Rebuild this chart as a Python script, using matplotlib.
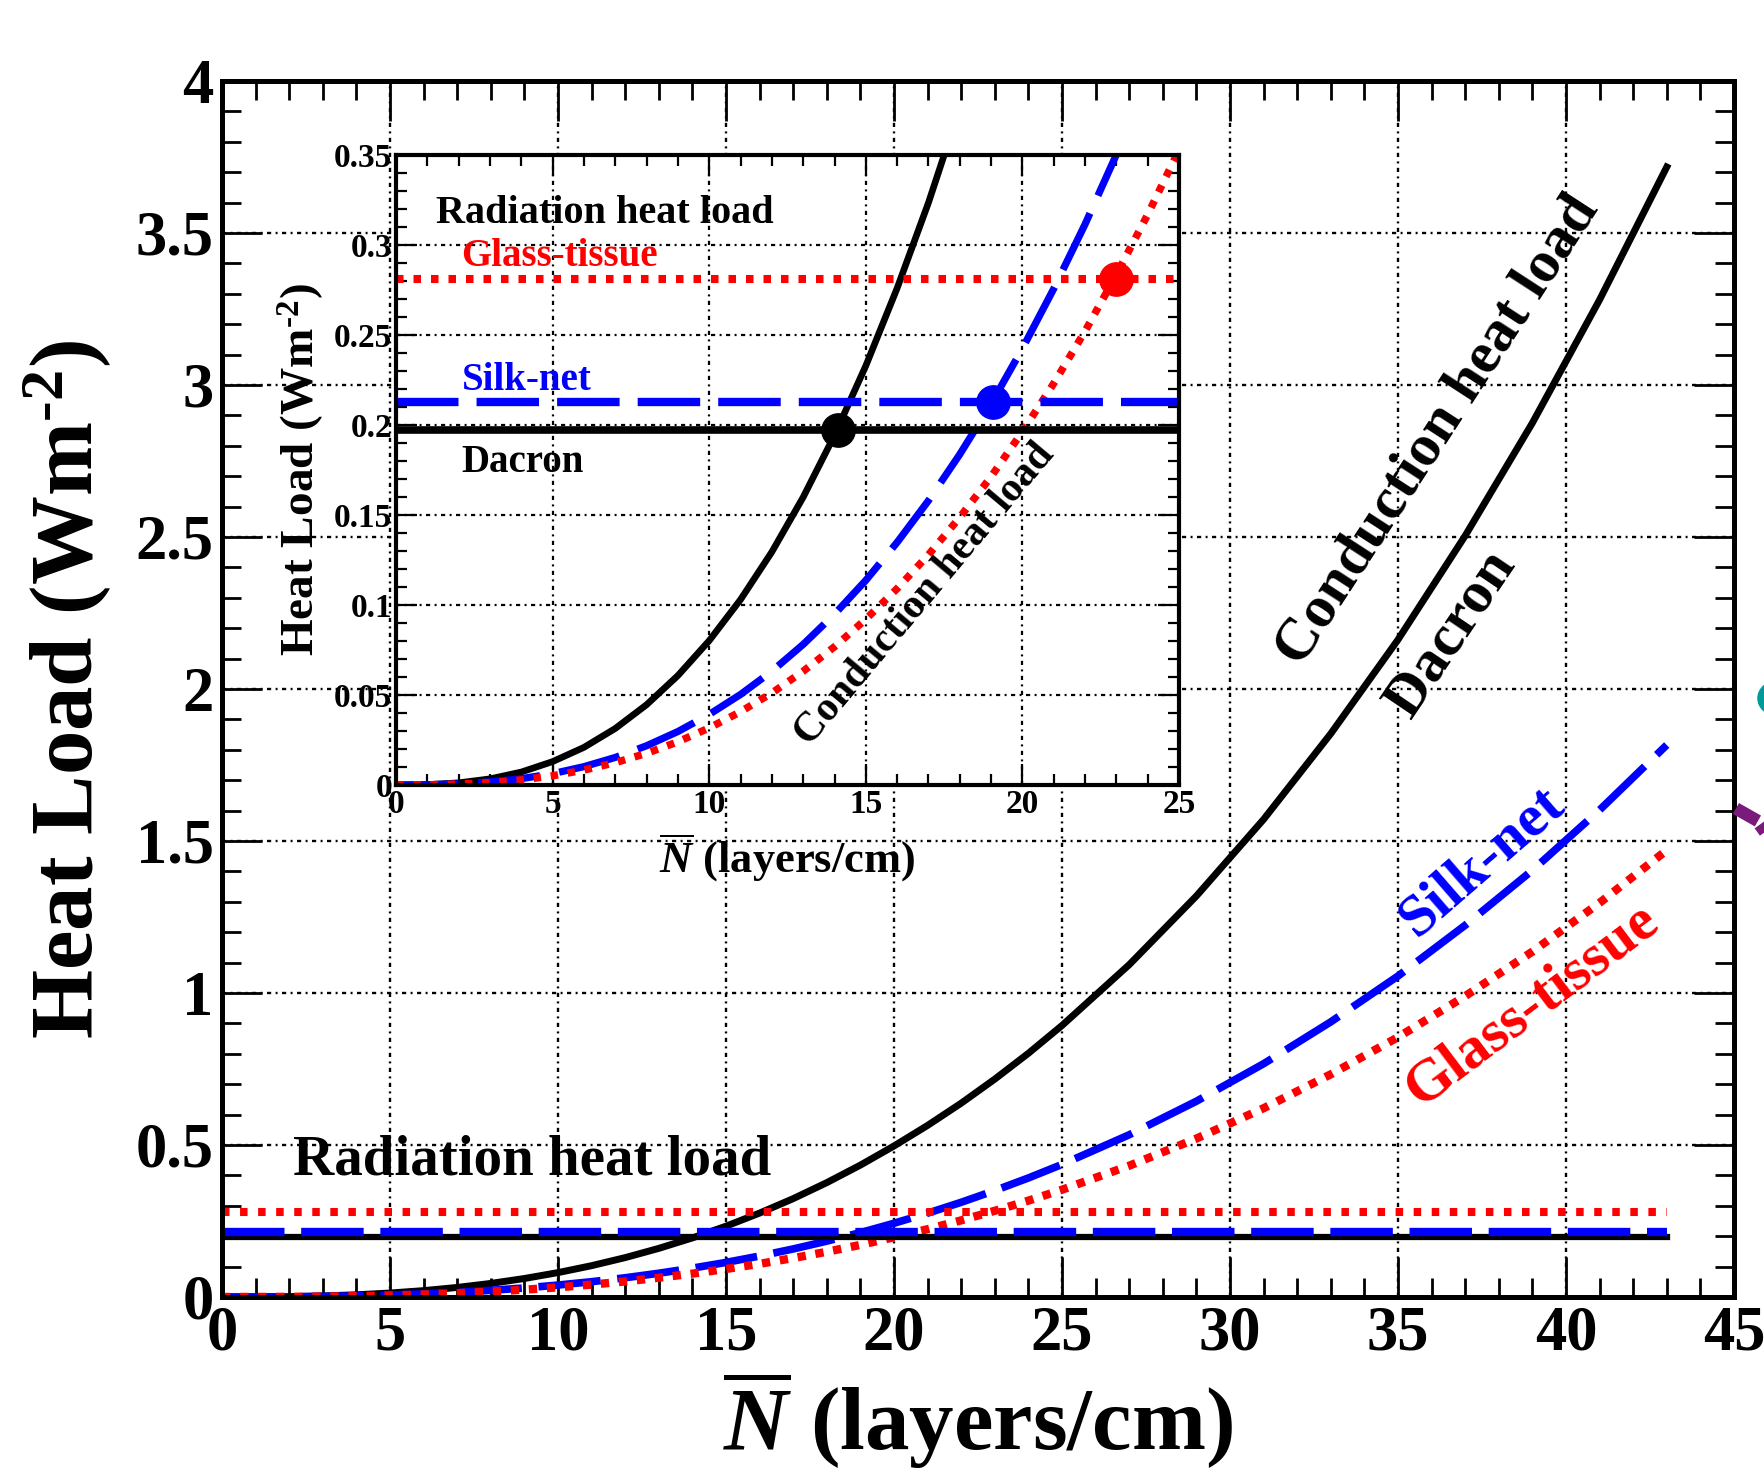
import matplotlib
matplotlib.use("Agg")
import matplotlib.pyplot as plt
from matplotlib.ticker import FixedLocator, MultipleLocator
from matplotlib.patches import Circle
from matplotlib.lines import Line2D

plt.rcParams['font.family'] = ['Liberation Serif', 'DejaVu Serif']
plt.rcParams['font.weight'] = 'bold'
plt.rcParams['axes.labelweight'] = 'bold'
plt.rcParams['mathtext.fontset'] = 'custom'
plt.rcParams['mathtext.rm'] = 'Liberation Serif:bold'
plt.rcParams['mathtext.it'] = 'Liberation Serif:italic:bold'
plt.rcParams['mathtext.bf'] = 'Liberation Serif:bold'
plt.rcParams['lines.scale_dashes'] = False

# layer density N (layers/cm)
n_layers = [0, 1, 2, 3, 4, 5, 6, 7, 8, 9, 10, 11, 12, 13, 14, 15, 16, 17, 18,
            19, 20, 21, 22, 23, 24, 25, 27, 29, 31, 33, 35, 37, 39, 41, 43]

# conduction heat load (W m^-2)
dacron_cond = [0, 0.0002, 0.0012, 0.0034, 0.0072, 0.0130, 0.0209, 0.0314, 0.0446,
               0.0608, 0.0802, 0.1030, 0.1295, 0.1599, 0.1943, 0.2329, 0.2760,
               0.3235, 0.3762, 0.4338, 0.4967, 0.5644, 0.6375, 0.7167, 0.8016,
               0.8930, 1.093, 1.319, 1.571, 1.853, 2.162, 2.504, 2.875, 3.280, 3.717]
silk_cond = [0, 0.0001, 0.0006, 0.0017, 0.0035, 0.0063, 0.0102, 0.0153, 0.0218,
             0.0297, 0.0392, 0.0503, 0.0632, 0.0781, 0.0949, 0.1137, 0.1348,
             0.1580, 0.1837, 0.2117, 0.2425, 0.2757, 0.3115, 0.3502, 0.3915,
             0.4360, 0.5335, 0.6439, 0.7672, 0.9049, 1.0557, 1.2228, 1.4036, 1.6019, 1.8158]
glass_cond = [0, 0.0001, 0.0005, 0.0013, 0.0028, 0.0051, 0.0083, 0.0124, 0.0176,
              0.0240, 0.0317, 0.0407, 0.0511, 0.0632, 0.0768, 0.0921, 0.1091,
              0.1279, 0.1487, 0.1713, 0.1963, 0.2231, 0.2521, 0.2835, 0.3169,
              0.3528, 0.4318, 0.5211, 0.6209, 0.7324, 0.8545, 0.9897, 1.1360, 1.2965, 1.4697]

# radiation heat load (constant lines)
rad_n = [0, 43]
dacron_rad = [0.197, 0.197]
silk_rad = [0.213, 0.213]
glass_rad = [0.281, 0.281]

# points where conduction = radiation
cross_n = [14.1, 19.05, 23.0]
cross_q = [0.197, 0.213, 0.281]
cross_col = ['black', '#0000ff', '#ff0000']

BLUE = '#0000ff'
RED = '#ff0000'
GRID_LS = (0, (3, 3.2, 1.4, 3.2))

fig = plt.figure(figsize=(17.65, 14.70), dpi=100)
ax = fig.add_axes([0.1258, 0.1177, 0.8566, 0.8272])

# main panel
ax.plot(n_layers, dacron_cond, color='black', lw=5)
ax.plot(n_layers, silk_cond, color=BLUE, lw=5.5, dashes=(45, 12))
ax.plot(n_layers, glass_cond, color=RED, lw=6, dashes=(6, 7))
ax.plot(rad_n, dacron_rad, color='black', lw=4.5)
ax.plot(rad_n, silk_rad, color=BLUE, lw=6, dashes=(45, 12))
ax.plot(rad_n, glass_rad, color=RED, lw=5.8, dashes=(5.4, 7.6))

ax.set_xlim(0, 45)
ax.set_ylim(0, 4)
ax.xaxis.set_major_locator(FixedLocator(range(0, 46, 5)))
ax.xaxis.set_minor_locator(MultipleLocator(1))
ax.yaxis.set_major_locator(FixedLocator([0, 0.5, 1, 1.5, 2, 2.5, 3, 3.5, 4]))
ax.yaxis.set_minor_locator(MultipleLocator(0.1))
ax.set_xticklabels([str(v) for v in range(0, 46, 5)])
ax.set_yticklabels(['0', '0.5', '1', '1.5', '2', '2.5', '3', '3.5', '4'])
ax.tick_params(which='both', direction='in', top=True, right=True, labelsize=45)
ax.tick_params(which='major', length=29, width=2)
ax.tick_params(which='minor', length=14, width=2)
ax.tick_params(axis='x', pad=6)
ax.tick_params(axis='y', pad=6)
for s in ax.spines.values():
    s.set_linewidth(3.6)
ax.grid(True, which='major', color='black', lw=1.7, linestyle=GRID_LS)
ax.set_axisbelow(True)

ax.set_xlabel(r'$\overline{N}$ (layers/cm)', fontsize=64, fontweight='bold')
ax.set_ylabel(r'Heat Load (Wm$^{\text{-2}}$)', fontsize=64, fontweight='bold')
ax.xaxis.set_label_coords(0.5, -0.058)
ax.yaxis.set_label_coords(-0.072, 0.5)

ax.text(2.1, 0.45, 'Radiation heat load', fontsize=41, ha='left', va='center')
ax.text(36.2, 2.85, 'Conduction heat load', fontsize=43, rotation=57,
        rotation_mode='anchor', ha='center', va='center')
ax.text(36.6, 2.18, 'Dacron', fontsize=43, rotation=56,
        rotation_mode='anchor', ha='center', va='center')
ax.text(37.5, 1.43, 'Silk-net', fontsize=43, color=BLUE, rotation=41,
        rotation_mode='anchor', ha='center', va='center')
ax.text(39.0, 0.96, 'Glass-tissue', fontsize=43, color=RED, rotation=37,
        rotation_mode='anchor', ha='center', va='center')

# inset
ins = fig.add_axes([0.2244, 0.4660, 0.4436, 0.4286])
ins.set_facecolor('white')
ins.plot(n_layers, dacron_cond, color='black', lw=4.8)
ins.plot(n_layers, silk_cond, color=BLUE, lw=5.2, dashes=(45, 14))
ins.plot(n_layers, glass_cond, color=RED, lw=5.4, dashes=(5.4, 7))
ins.plot(rad_n, dacron_rad, color='black', lw=5.5)
ins.plot(rad_n, silk_rad, color=BLUE, lw=6, dashes=(45, 13))
ins.plot(rad_n, glass_rad, color=RED, lw=5.8, dashes=(5.4, 7.2))
for xn, yq, c in zip(cross_n, cross_q, cross_col):
    ins.plot(xn, yq, 'o', color=c, ms=24, zorder=5)

ins.set_xlim(0, 25)
ins.set_ylim(0, 0.35)
ins.xaxis.set_major_locator(FixedLocator(range(0, 26, 5)))
ins.xaxis.set_minor_locator(MultipleLocator(1))
ins.yaxis.set_major_locator(FixedLocator([0, 0.05, 0.1, 0.15, 0.2, 0.25, 0.3, 0.35]))
ins.yaxis.set_minor_locator(MultipleLocator(0.01))
ins.set_xticklabels([str(v) for v in range(0, 26, 5)])
ins.set_yticklabels(['0', '0.05', '0.1', '0.15', '0.2', '0.25', '0.3', '0.35'])
ins.tick_params(which='both', direction='in', top=True, right=True, labelsize=24)
ins.tick_params(which='major', length=15, width=1.6)
ins.tick_params(which='minor', length=8, width=1.6)
ins.tick_params(axis='x', pad=3)
ins.tick_params(axis='y', pad=3)
for s in ins.spines.values():
    s.set_linewidth(3)
ins.grid(True, which='major', color='black', lw=1.6, linestyle=GRID_LS)
ins.set_axisbelow(True)

ins.set_xlabel(r'$\overline{N}$ (layers/cm)', fontsize=32, fontweight='bold')
ins.set_ylabel(r'Heat Load (Wm$^{\text{-2}}$)', fontsize=34, fontweight='bold')
ins.xaxis.set_label_coords(0.5, -0.073)
ins.yaxis.set_label_coords(-0.089, 0.5)

ins.text(1.26, 0.3175, 'Radiation heat load', fontsize=29, ha='left', va='center')
ins.text(2.09, 0.2937, 'Glass-tissue', fontsize=28, color=RED, ha='left', va='center')
ins.text(2.09, 0.2248, 'Silk-net', fontsize=28, color=BLUE, ha='left', va='center')
ins.text(2.09, 0.179, 'Dacron', fontsize=28, ha='left', va='center')
ins.text(16.9, 0.106, 'Conduction heat load', fontsize=30, rotation=50,
         rotation_mode='anchor', ha='center', va='center')

# bits of a neighbouring slide cut off at the right edge
fig.patches.append(Circle((1.0085, 0.525), 0.0125, transform=fig.transFigure,
                          color='#009a9a', clip_on=False))
fig.lines.append(Line2D([0.9835, 0.9960], [0.4500, 0.4415], transform=fig.transFigure,
                        color='#7a1a7a', lw=9, solid_capstyle='butt'))
fig.lines.append(Line2D([0.9970, 1.0], [0.4390, 0.4340], transform=fig.transFigure,
                        color='#7a1a7a', lw=9, solid_capstyle='butt'))

fig.savefig('out.png', dpi=100)
